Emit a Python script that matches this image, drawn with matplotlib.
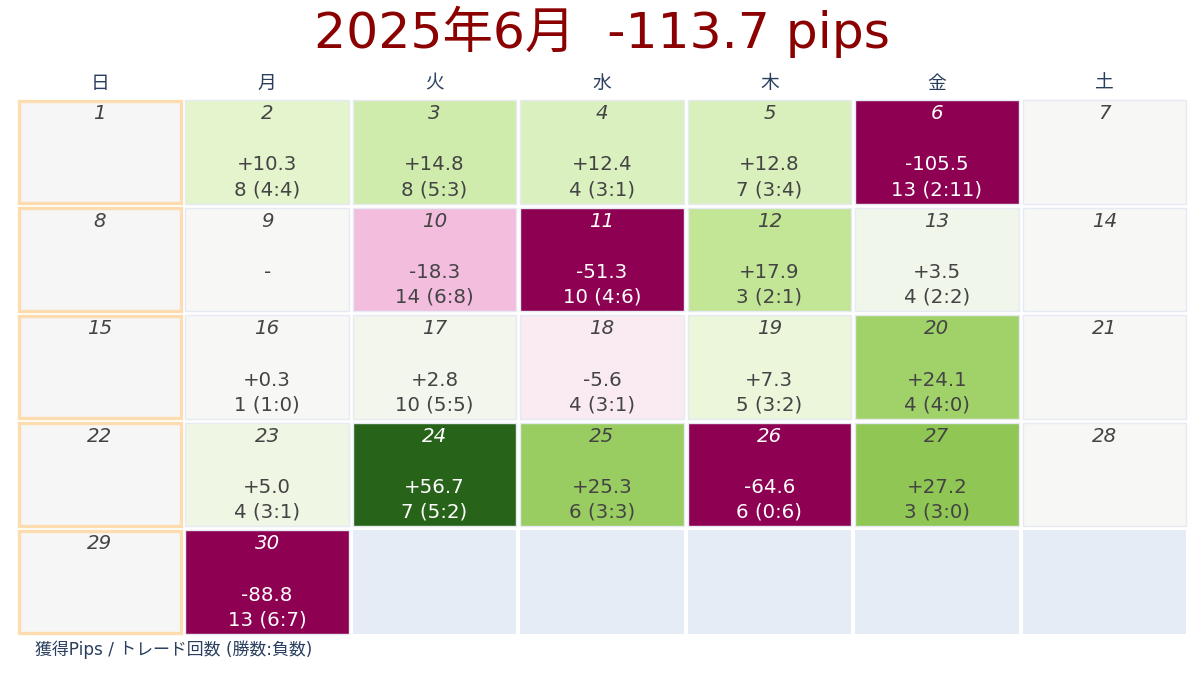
import matplotlib
matplotlib.use("Agg")
import matplotlib.pyplot as plt
from matplotlib.patches import Rectangle
from matplotlib import colors

plt.rcParams['font.family'] = ['DejaVu Sans', 'Noto Sans CJK JP']

# ---- data ----
title = "2025年6月  -113.7 pips"
weekdays = ["日", "月", "火", "水", "木", "金", "土"]
first_weekday = 0  # June 1, 2025 is Sunday
n_days = 30
trade_days = [2, 3, 4, 5, 6, 9, 10, 11, 12, 13, 16, 17, 18, 19, 20, 23, 24, 25, 26, 27, 30]
pips = [10.3, 14.8, 12.4, 12.8, -105.5, None, -18.3, -51.3, 17.9, 3.5,
        0.3, 2.8, -5.6, 7.3, 24.1, 5.0, 56.7, 25.3, -64.6, 27.2, -88.8]
trades = [8, 8, 4, 7, 13, None, 14, 10, 3, 4, 1, 10, 4, 5, 4, 4, 7, 6, 6, 3, 13]
wins = [4, 5, 3, 3, 2, None, 6, 4, 2, 2, 1, 5, 3, 3, 4, 3, 5, 3, 0, 3, 6]
losses = [4, 3, 1, 4, 11, None, 8, 6, 1, 2, 0, 5, 1, 2, 0, 1, 2, 3, 6, 0, 7]
footnote = "獲得Pips / トレード回数 (勝数:負数)"

W, H = 1204, 678
fig = plt.figure(figsize=(W / 100, H / 100), dpi=100)
x0, x1, y0, y1 = 16, 1188, 98, 636
ax = fig.add_axes([x0 / W, 1 - y1 / H, (x1 - x0) / W, (y1 - y0) / H])
ax.set_xlim(0, 7)
ax.set_ylim(5, 0)
ax.axis('off')

cmap = plt.get_cmap('PiYG')
norm = colors.Normalize(vmin=-50, vmax=50)

cw = (x1 - x0) / 7
ch = (y1 - y0) / 5
gx = 2 / cw
gy = 2 / ch

info = {d: (p, t, w, l) for d, p, t, w, l in zip(trade_days, pips, trades, wins, losses)}
dark_text = '#444444'
fs = 14.2

for slot in range(35):
    r, c = divmod(slot, 7)
    day = slot - first_weekday + 1
    if day < 1 or day > n_days:
        ax.add_patch(Rectangle((c + gx, r + gy), 1 - 2 * gx, 1 - 2 * gy,
                               facecolor='#e5ecf6', edgecolor='none'))
        continue
    if c == 0:
        ax.add_patch(Rectangle((c + 1.3 * gx, r + 1.3 * gy), 1 - 2.6 * gx, 1 - 2.6 * gy,
                               facecolor='#f6f6f6', edgecolor='#fddcb0', linewidth=2.4))
        tcol = dark_text
    elif day in info and info[day][0] is not None:
        v = info[day][0]
        fc = cmap(norm(v))
        ax.add_patch(Rectangle((c + gx, r + gy), 1 - 2 * gx, 1 - 2 * gy,
                               facecolor=fc, edgecolor='#e6eaf3', linewidth=1.0))
        tcol = 'white' if abs(v) > 40 else dark_text
    else:
        ax.add_patch(Rectangle((c + gx, r + gy), 1 - 2 * gx, 1 - 2 * gy,
                               facecolor=cmap(norm(0)), edgecolor='#e6eaf3', linewidth=1.0))
        tcol = dark_text
    cx = c + 0.5
    ax.text(cx, r + 15.5 / ch, str(day), ha='center', va='center', fontsize=fs,
            style='italic', color=tcol)
    if day in info:
        p, t, w, l = info[day]
        if p is None:
            ax.text(cx, r + 67 / ch, "-", ha='center', va='center', fontsize=fs, color=tcol)
        else:
            ax.text(cx, r + 67 / ch, f"{p:+.1f}", ha='center', va='center', fontsize=fs, color=tcol)
            ax.text(cx, r + 91.5 / ch, f"{t} ({w}:{l})", ha='center', va='center', fontsize=fs, color=tcol)

for c, wd in enumerate(weekdays):
    ax.text(c + 0.5, -15 / ch, wd, ha='center', va='center', fontsize=13.5, color='#2a3f5f')

fig.text(602 / W, 1 - 32 / H, title, ha='center', va='center', fontsize=36.3, color='#8b0000')
fig.text(35 / W, 1 - 650 / H, footnote, ha='left', va='center', fontsize=12.2, color='#2a3f5f')

fig.savefig('out.png', dpi=100, facecolor='white')
